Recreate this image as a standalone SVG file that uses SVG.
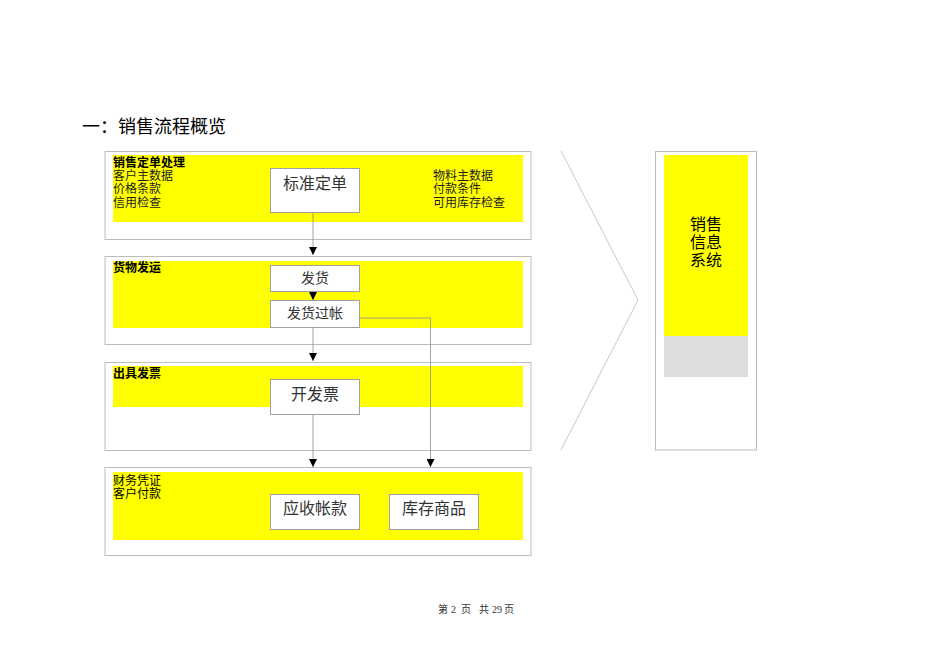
<svg xmlns="http://www.w3.org/2000/svg" width="950" height="672" viewBox="0 0 950 672">
<defs>
<style>
.outer{fill:#fff;stroke:#bdbdbd;stroke-width:1}
.band{fill:#ffff00}
.node{fill:#fff;stroke:#a0a0a0;stroke-width:1}
.conn{fill:none;stroke:#8c8c8c;stroke-width:0.8}
.hd{font-family:"Liberation Sans","Noto Sans CJK SC",sans-serif;font-size:12px;font-weight:bold;fill:#000}
.it{font-family:"Liberation Serif","Noto Sans CJK SC",serif;font-size:12px;fill:#222}
.nl{font-family:"Liberation Serif","Noto Sans CJK SC",serif;font-size:16px;fill:#333;text-anchor:middle}
.sys{font-family:"Liberation Sans","Noto Sans CJK SC",sans-serif;font-size:16px;fill:#000;text-anchor:middle}
.ft{font-family:"Liberation Serif","Noto Sans CJK SC",serif;font-size:10px;fill:#333}
</style>
<marker id="ah" viewBox="0 0 8 8" refX="8" refY="4" markerWidth="8" markerHeight="8" markerUnits="userSpaceOnUse" orient="auto">
<path d="M0,0 L8,4 L0,8 z" fill="#000"/>
</marker>
</defs>
<rect width="950" height="672" fill="#fff"/>
<text x="82" y="133" font-family="Liberation Sans,'Noto Sans CJK SC',sans-serif" font-size="18" fill="#000">一：销售流程概览</text>

<g id="stage1">
<rect class="outer" x="105" y="151.5" width="426" height="88"/>
<rect class="band" x="113" y="155" width="410" height="67"/>
<text class="hd" x="113" y="167">销售定单处理</text>
<text class="it" x="113" y="180">客户主数据</text>
<text class="it" x="113" y="193">价格条款</text>
<text class="it" x="113" y="207">信用检查</text>
<text class="it" x="433" y="180">物料主数据</text>
<text class="it" x="433" y="193">付款条件</text>
<text class="it" x="433" y="207">可用库存检查</text>
</g>
<g id="node-biaozhun">
<rect class="node" x="270.5" y="168.5" width="89" height="44"/>
<text class="nl" x="315" y="189">标准定单</text>
</g>

<g id="stage2">
<rect class="outer" x="105" y="256.5" width="426" height="88"/>
<rect class="band" x="113" y="261" width="410" height="67"/>
<text class="hd" x="113" y="272">货物发运</text>
</g>
<g id="node-fahuo">
<rect class="node" x="270.5" y="265.5" width="89" height="26"/>
<text class="nl" x="315" y="283" style="font-size:14px">发货</text>
</g>
<g id="node-fahuoguozhang">
<rect class="node" x="270.5" y="300.5" width="89" height="27"/>
<text class="nl" x="315" y="318" style="font-size:14px">发货过帐</text>
</g>

<g id="stage3">
<rect class="outer" x="105" y="362.5" width="426" height="88"/>
<rect class="band" x="113" y="366" width="410" height="41"/>
<text class="hd" x="113" y="378">出具发票</text>
</g>
<g id="node-kaifapiao">
<rect class="node" x="270.5" y="379.5" width="89" height="35"/>
<text class="nl" x="315" y="400">开发票</text>
</g>

<g id="stage4">
<rect class="outer" x="105" y="467.5" width="426" height="88"/>
<rect class="band" x="113" y="472" width="410" height="68"/>
<text class="hd" x="113" y="485" style="font-weight:normal">财务凭证</text>
<text class="hd" x="113" y="498" style="font-weight:normal">客户付款</text>
</g>
<g id="node-yingshou">
<rect class="node" x="270.5" y="494.5" width="89" height="35"/>
<text class="nl" x="315" y="514">应收帐款</text>
</g>
<g id="node-kucun">
<rect class="node" x="389.5" y="494.5" width="89" height="35"/>
<text class="nl" x="434" y="514">库存商品</text>
</g>

<g id="chevron">
<polyline points="561,151 638,300 561,450" fill="none" stroke="#c8c8c8" stroke-width="1"/>
</g>

<g id="system">
<rect class="outer" x="655.5" y="151.5" width="101" height="298.5"/>
<rect class="band" x="664" y="155" width="84" height="181"/>
<rect x="664" y="336" width="84" height="41" fill="#dddddd"/>
<text class="sys" x="706" y="230">销售</text>
<text class="sys" x="706" y="248">信息</text>
<text class="sys" x="706" y="266">系统</text>
</g>

<g id="connectors">
<line class="conn" x1="313" y1="212.5" x2="313" y2="255" marker-end="url(#ah)"/>
<line class="conn" x1="313" y1="291.5" x2="313" y2="300" marker-end="url(#ah)"/>
<line class="conn" x1="313" y1="327.5" x2="313" y2="361" marker-end="url(#ah)"/>
<line class="conn" x1="313" y1="414.5" x2="313" y2="467" marker-end="url(#ah)"/>
<polyline class="conn" points="359.5,318 430.5,318 430.5,467" marker-end="url(#ah)"/>
</g>

<text class="ft" y="613"><tspan x="438">第</tspan><tspan x="451">2</tspan><tspan x="461">页</tspan><tspan x="479">共</tspan><tspan x="492">29</tspan><tspan x="504">页</tspan></text>
</svg>
